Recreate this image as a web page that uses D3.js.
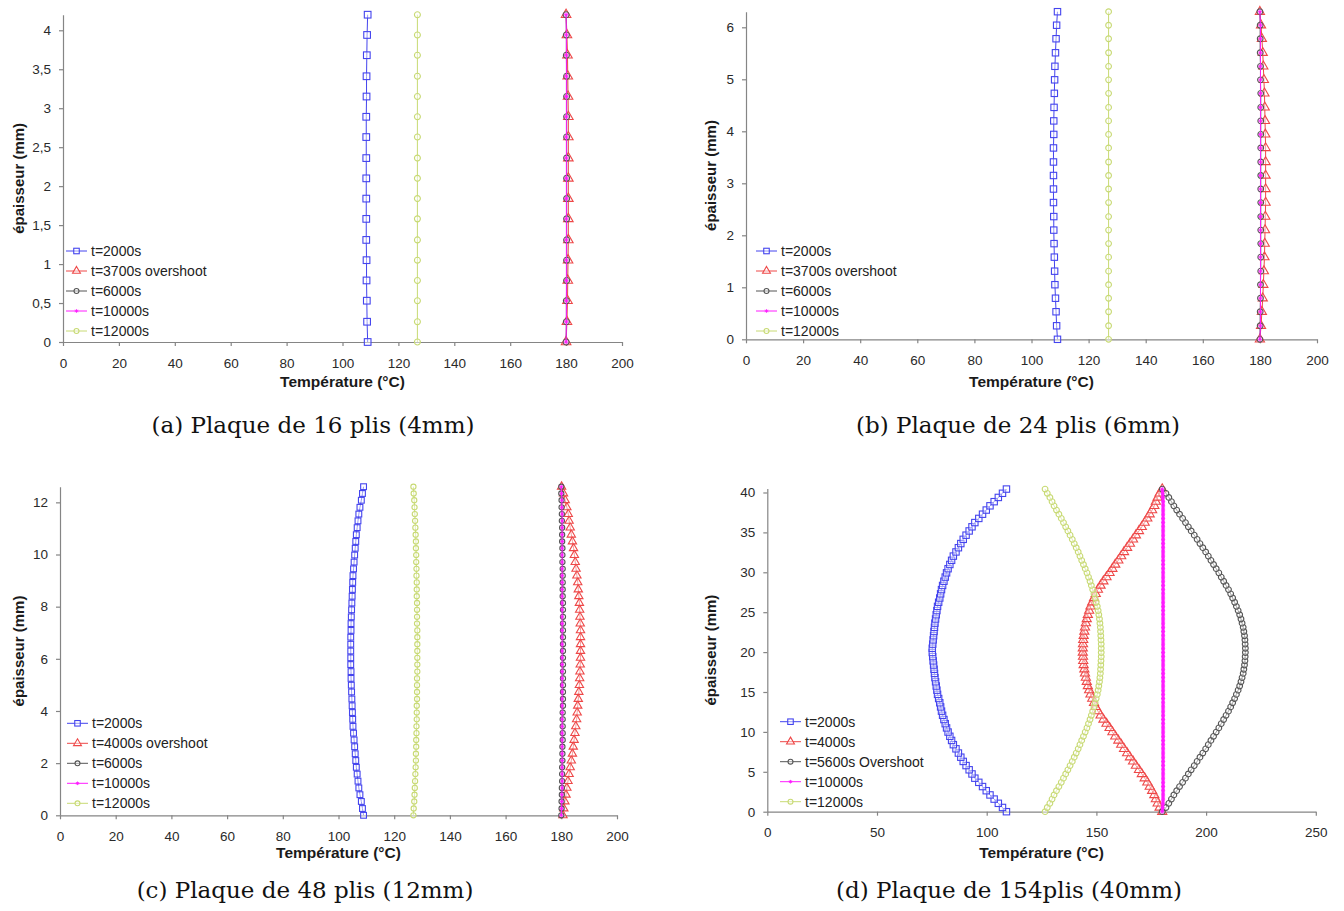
<!DOCTYPE html>
<html><head><meta charset="utf-8">
<script src="https://cdn.jsdelivr.net/npm/d3@7"></script>
<style>body{margin:0;background:#fff;} svg{display:block;}</style>
</head><body>
<svg id="c" width="1344" height="911"></svg>
<script>
// ---------- DATA ----------
// (a) 16 plis
const thickA = [0,0.26,0.53,0.79,1.05,1.31,1.58,1.84,2.1,2.36,2.63,2.89,3.15,3.41,3.68,3.94,4.2];
const blueA  = [109.0,108.8,108.7,108.6,108.6,108.5,108.5,108.5,108.5,108.5,108.5,108.5,108.6,108.6,108.7,108.8,109.0];
const redA   = [180.0,180.3,180.5,180.6,180.7,180.8,180.8,180.8,180.8,180.8,180.8,180.8,180.7,180.6,180.5,180.3,180.0];
const blackA = [180.0,180.1,180.1,180.2,180.2,180.2,180.2,180.2,180.2,180.2,180.2,180.2,180.2,180.2,180.1,180.1,180.0];
const magA   = [180.0,180.1,180.1,180.1,180.1,180.1,180.1,180.1,180.1,180.1,180.1,180.1,180.1,180.1,180.1,180.1,180.0];
const greenA = [126.8,126.8,126.8,126.8,126.8,126.8,126.8,126.8,126.8,126.8,126.8,126.8,126.8,126.8,126.8,126.8,126.8];
const legendA = ["t=2000s","t=3700s overshoot","t=6000s","t=10000s","t=12000s"];
const yTicksA = [0,0.5,1,1.5,2,2.5,3,3.5,4];
const xTicksA = [0,20,40,60,80,100,120,140,160,180,200];
const captionA = "(a) Plaque de 16 plis (4mm)";

// (b) 24 plis
const thickB = [0,0.26,0.53,0.79,1.05,1.31,1.58,1.84,2.1,2.36,2.63,2.89,3.15,3.41,3.68,3.94,4.2,4.46,4.73,4.99,5.25,5.51,5.78,6.04,6.3];
const blueB  = [109.1,108.8,108.6,108.4,108.2,108.1,108.0,107.9,107.8,107.8,107.7,107.7,107.7,107.7,107.7,107.8,107.8,107.9,108.0,108.1,108.2,108.4,108.6,108.8,109.1];
const redB   = [180.0,180.4,180.7,181.0,181.2,181.4,181.6,181.7,181.8,181.9,182.0,182.0,182.0,182.0,182.0,181.9,181.8,181.7,181.6,181.4,181.2,181.0,180.7,180.4,180.0];
const blackB = [180.0,180.1,180.1,180.2,180.2,180.3,180.3,180.3,180.3,180.3,180.3,180.3,180.3,180.3,180.3,180.3,180.3,180.3,180.3,180.2,180.2,180.1,180.1,180.1,180.0];
const magB   = [180.0,180.2,180.2,180.2,180.2,180.2,180.2,180.2,180.2,180.2,180.2,180.2,180.2,180.2,180.2,180.2,180.2,180.2,180.2,180.2,180.2,180.2,180.2,180.2,180.0];
const greenB = [127.0,127.0,127.0,127.0,127.0,127.0,127.0,127.0,127.0,127.0,127.0,127.0,127.0,127.0,127.0,127.0,127.0,127.0,127.0,127.0,127.0,127.0,127.0,127.0,127.0];
const legendB = ["t=2000s","t=3700s overshoot","t=6000s","t=10000s","t=12000s"];
const yTicksB = [0,1,2,3,4,5,6];
const xTicksB = [0,20,40,60,80,100,120,140,160,180,200];
const captionB = "(b) Plaque de 24 plis (6mm)";

// (c) 48 plis
const thickC = [0,0.26,0.53,0.79,1.05,1.31,1.58,1.84,2.1,2.36,2.63,2.89,3.15,3.41,3.68,3.94,4.2,4.46,4.73,4.99,5.25,5.51,5.78,6.04,6.3,
  6.56,6.83,7.09,7.35,7.61,7.88,8.14,8.4,8.66,8.93,9.19,9.45,9.71,9.98,10.24,10.5,10.76,11.03,11.29,11.55,11.81,12.08,12.34,12.6];
const blueC  = [109.0,108.6,108.2,107.7,107.3,107.0,106.7,106.4,106.2,106.0,105.8,105.6,105.4,105.2,105.1,105.0,104.9,104.8,104.7,104.6,104.5,104.5,104.4,104.4,104.4,
  104.4,104.4,104.5,104.5,104.6,104.7,104.8,104.9,105.0,105.1,105.2,105.4,105.6,105.8,106.0,106.2,106.4,106.7,107.0,107.3,107.7,108.2,108.6,109.0];
const redC   = [180.6,180.9,181.3,181.7,182.0,182.4,182.8,183.2,183.6,184.0,184.3,184.6,184.9,185.2,185.5,185.7,185.9,186.1,186.3,186.5,186.6,186.7,186.8,186.9,186.9,
  186.9,186.9,186.9,186.8,186.7,186.6,186.5,186.3,186.1,185.9,185.6,185.3,185.0,184.7,184.4,184.0,183.6,183.2,182.8,182.5,182.0,181.4,180.8,180.1];
const blackC = [180.0,180.1,180.1,180.2,180.2,180.3,180.3,180.3,180.4,180.4,180.4,180.5,180.5,180.5,180.5,180.5,180.6,180.6,180.6,180.6,180.6,180.6,180.6,180.6,180.6,
  180.6,180.6,180.6,180.6,180.6,180.6,180.6,180.5,180.5,180.5,180.5,180.5,180.4,180.4,180.4,180.3,180.3,180.3,180.2,180.2,180.1,180.1,180.0,180.0];
const magC   = [180.0,180.1,180.2,180.2,180.3,180.3,180.3,180.3,180.3,180.3,180.3,180.3,180.3,180.3,180.3,180.3,180.3,180.3,180.3,180.3,180.3,180.3,180.3,180.3,180.3,
  180.3,180.3,180.3,180.3,180.3,180.3,180.3,180.3,180.3,180.3,180.3,180.3,180.3,180.3,180.3,180.3,180.3,180.3,180.3,180.3,180.2,180.2,180.1,180.0];
const greenC = [126.9,127.0,127.2,127.3,127.4,127.5,127.6,127.7,127.8,127.8,127.9,127.9,128.0,128.0,128.1,128.1,128.1,128.2,128.2,128.2,128.2,128.3,128.3,128.3,128.3,
  128.3,128.3,128.3,128.2,128.2,128.2,128.2,128.1,128.1,128.1,128.0,128.0,127.9,127.9,127.8,127.8,127.7,127.6,127.5,127.4,127.3,127.2,127.0,126.9];
const legendC = ["t=2000s","t=4000s overshoot","t=6000s","t=10000s","t=12000s"];
const yTicksC = [0,2,4,6,8,10,12];
const xTicksC = [0,20,40,60,80,100,120,140,160,180,200];
const captionC = "(c) Plaque de 48 plis (12mm)";

// (d) 154 plis
const thickD = [0,0.53,1.05,1.58,2.1,2.63,3.15,3.68,4.2,4.73,5.25,5.78,6.3,6.83,7.35,7.88,8.4,8.93,9.45,9.98,10.5,11.03,11.55,12.08,12.6,13.13,13.65,14.18,14.7,15.23,15.75,16.28,16.8,17.33,17.85,18.38,18.9,19.43,19.95,
  20.48,21.0,21.53,22.05,22.58,23.1,23.63,24.15,24.68,25.2,25.73,26.25,26.78,27.3,27.83,28.35,28.88,29.4,29.93,30.45,30.98,31.5,32.03,32.55,33.08,33.6,34.13,34.65,35.18,35.7,36.23,36.75,37.28,37.8,38.33,38.85,39.38,39.9,40.43];
const blueD  = [109.0,107.2,105.3,103.4,101.5,99.8,98.1,96.4,94.6,93.3,92.0,90.6,89.3,88.2,87.1,86.0,84.8,84.0,83.2,82.4,81.7,81.1,80.5,79.9,79.4,79.0,78.6,78.1,77.6,77.3,77.0,76.7,76.4,76.2,76.0,75.8,75.6,75.4,75.2,
  75.2,75.4,75.6,75.8,76.0,76.2,76.4,76.7,77.0,77.3,77.6,78.1,78.6,79.0,79.4,79.9,80.5,81.1,81.7,82.4,83.2,84.0,84.8,86.0,87.1,88.2,89.3,90.6,92.0,93.3,94.6,96.4,98.1,99.8,101.5,103.4,105.3,107.2,109.0];
const redD   = [180.0,178.8,177.9,177.1,176.4,175.4,174.3,173.2,172.0,170.7,169.4,168.0,166.7,165.3,164.0,162.6,161.3,160.0,158.6,157.3,156.0,154.6,153.2,151.9,150.7,149.7,148.9,148.1,147.3,146.7,146.1,145.6,145.2,144.8,144.5,144.2,144.0,143.9,143.8,
  143.8,143.9,144.0,144.2,144.5,144.8,145.2,145.6,146.1,146.7,147.3,148.1,148.9,149.7,150.7,151.9,153.2,154.6,156.0,157.3,158.6,160.0,161.3,162.6,164.0,165.3,166.7,168.0,169.4,170.7,172.0,173.2,174.3,175.4,176.4,177.1,177.9,178.8,180.0];
const blackD = [180.0,181.7,183.0,184.2,185.3,186.6,187.9,189.3,190.6,191.9,193.2,194.6,195.9,197.2,198.5,199.8,201.0,202.2,203.4,204.6,205.8,206.9,208.0,209.1,210.2,211.2,212.1,213.0,213.8,214.6,215.3,215.9,216.4,216.9,217.2,217.5,217.7,217.8,217.9,
  217.9,217.8,217.7,217.5,217.2,216.9,216.4,215.9,215.3,214.6,213.8,213.0,212.1,211.2,210.2,209.1,208.0,206.9,205.8,204.6,203.4,202.2,201.0,199.8,198.5,197.2,195.9,194.6,193.2,191.9,190.6,189.3,187.9,186.6,185.3,184.2,183.0,181.7,180.0];
const magD   = [180.0,180.2,180.3,180.4,180.4,180.4,180.4,180.4,180.4,180.4,180.4,180.4,180.4,180.4,180.4,180.4,180.4,180.4,180.4,180.4,180.4,180.4,180.4,180.4,180.4,180.4,180.4,180.4,180.4,180.4,180.4,180.4,180.4,180.4,180.4,180.4,180.4,180.4,180.4,
  180.4,180.4,180.4,180.4,180.4,180.4,180.4,180.4,180.4,180.4,180.4,180.4,180.4,180.4,180.4,180.4,180.4,180.4,180.4,180.4,180.4,180.4,180.4,180.4,180.4,180.4,180.4,180.4,180.4,180.4,180.4,180.4,180.4,180.4,180.4,180.4,180.3,180.2,180.0];
const greenD = [126.6,127.6,128.8,129.8,130.7,131.8,132.9,134.0,135.0,136.0,137.0,138.0,139.0,139.9,140.8,141.7,142.5,143.3,144.1,144.9,145.7,146.4,147.1,147.7,148.3,148.9,149.4,149.9,150.4,150.8,151.1,151.4,151.6,151.8,151.9,152.0,152.1,152.2,152.2,
  152.2,152.2,152.1,152.0,151.9,151.8,151.6,151.4,151.1,150.8,150.4,149.9,149.4,148.9,148.3,147.7,147.1,146.4,145.7,144.9,144.1,143.3,142.5,141.7,140.8,139.9,139.0,138.0,137.0,136.0,135.0,134.0,132.9,131.8,130.7,129.8,128.8,127.6,126.6];
const legendD = ["t=2000s","t=4000s","t=5600s Overshoot","t=10000s","t=12000s"];
const yTicksD = [0,5,10,15,20,25,30,35,40];
const xTicksD = [0,50,100,150,200,250];
const captionD = "(d) Plaque de 154plis (40mm)";

const xTitle = "Température (°C)";
const yTitle = "épaisseur (mm)";

// ---------- STYLE ----------
const seriesStyle = [
  {color:"#4444ee", marker:"square"},
  {color:"#ee4848", marker:"triangle"},
  {color:"#555555", marker:"circle"},
  {color:"#ff1cff", marker:"star"},
  {color:"#c8da74", marker:"circle"}
];

const panels = [
  {thick:thickA, series:[blueA,redA,blackA,magA,greenA], legend:legendA, yTicks:yTicksA, xTicks:xTicksA, caption:captionA,
   xDom:[0,200], xR:[63,622], yDom:[0,4.2], yR:[342,14.7], ylx:18, xly:387, lx:66, ly:251, cap:[313,433], ms:1.15, magW:1},
  {thick:thickB, series:[blueB,redB,blackB,magB,greenB], legend:legendB, yTicks:yTicksB, xTicks:xTicksB, caption:captionB,
   xDom:[0,200], xR:[746,1317], yDom:[0,6.3], yR:[339.3,11.7], ylx:710, xly:387, lx:756, ly:251, cap:[1018,433], ms:1.1, magW:1},
  {thick:thickC, series:[blueC,redC,blackC,magC,greenC], legend:legendC, yTicks:yTicksC, xTicks:xTicksC, caption:captionC,
   xDom:[0,200], xR:[60,617], yDom:[0,12.6], yR:[815.3,486.7], ylx:18, xly:858, lx:67, ly:723.3, cap:[305,898], ms:1.0, magW:1},
  {thick:thickD, series:[blueD,redD,blackD,magD,greenD], legend:legendD, yTicks:yTicksD, xTicks:xTicksD, caption:captionD,
   xDom:[0,250], xR:[767.3,1315.8], yDom:[0,40.5], yR:[811.7,488.5], ylx:710, xly:858, lx:780, ly:721.7, cap:[1009,898], ms:1.1, magW:3}
];

const svg = d3.select("#c");
const fmt = v => String(v).replace(".", ",");

function marker(g, type, color, s) {
  if (type === "square") {
    const a = 2.9*s;
    g.append("rect").attr("x",-a).attr("y",-a).attr("width",2*a).attr("height",2*a)
      .attr("fill","#fff").attr("fill-opacity",0.45).attr("stroke",color).attr("stroke-width",1.1);
  } else if (type === "triangle") {
    g.append("path").attr("d", d3.symbol(d3.symbolTriangle, 30*s*s)())
      .attr("fill","#fff").attr("fill-opacity",0.45).attr("stroke",color).attr("stroke-width",1.1);
  } else if (type === "circle") {
    g.append("circle").attr("r",2.6*s)
      .attr("fill","#fff").attr("fill-opacity",0.45).attr("stroke",color).attr("stroke-width",1.1);
  } else if (type === "star") {
    const r = 1.9*s, q = r*0.7;
    g.append("path").attr("d",`M${-r},0L${r},0M0,${-r}L0,${r}M${-q},${-q}L${q},${q}M${-q},${q}L${q},${-q}`)
      .attr("stroke",color).attr("stroke-width",0.9).attr("fill","none");
  }
}

panels.forEach(p => {
  const x = d3.scaleLinear().domain(p.xDom).range(p.xR);
  const y = d3.scaleLinear().domain(p.yDom).range(p.yR);
  const g = svg.append("g");

  // axes
  const ax = g.append("g").attr("transform",`translate(0,${y(0)})`)
    .call(d3.axisBottom(x).tickValues(p.xTicks).tickSize(4).tickSizeOuter(0).tickPadding(12).tickFormat(fmt));
  const ay = g.append("g").attr("transform",`translate(${x(0)},0)`)
    .call(d3.axisLeft(y).tickValues(p.yTicks).tickSize(4).tickSizeOuter(0).tickPadding(8).tickFormat(fmt));
  [ax, ay].forEach(a => {
    a.select(".domain").attr("stroke","#858585").attr("stroke-width",1.2);
    a.selectAll(".tick line").attr("stroke","#858585").attr("stroke-width",1.2);
    a.selectAll(".tick text").attr("fill","#2a2a2a").style("font-family","'Liberation Sans', Arial, sans-serif").style("font-size","13.5px");
  });

  // titles
  g.append("text").attr("x", (p.xR[0]+p.xR[1])/2).attr("y", p.xly)
    .attr("text-anchor","middle").attr("fill","#1a1a1a")
    .style("font-family","'Liberation Sans', Arial, sans-serif").style("font-size","15.5px").style("font-weight","bold")
    .text(xTitle);
  g.append("text").attr("transform",`translate(${p.ylx},${(p.yR[0]+p.yR[1])/2}) rotate(-90)`)
    .attr("text-anchor","middle").attr("dominant-baseline","central").attr("fill","#1a1a1a")
    .style("font-family","'Liberation Sans', Arial, sans-serif").style("font-size","15px").style("font-weight","bold")
    .text(yTitle);

  // series
  const line = d3.line().x(d => x(d[0])).y(d => y(d[1]));
  p.series.forEach((vals, si) => {
    const st = seriesStyle[si];
    const pts = p.thick.map((t, i) => [vals[i], t]);
    const sg = g.append("g");
    sg.append("path").datum(pts).attr("d", line).attr("fill","none")
      .attr("stroke", st.color).attr("stroke-width", si === 3 ? p.magW : 1);
    pts.forEach(d => {
      const mg = sg.append("g").attr("transform",`translate(${x(d[0])},${y(d[1])})`);
      marker(mg, st.marker, st.color, p.ms);
    });
  });

  // legend
  p.legend.forEach((lab, i) => {
    const st = seriesStyle[i];
    const yy = p.ly + i*20;
    const lg = g.append("g");
    lg.append("line").attr("x1",p.lx).attr("x2",p.lx+21).attr("y1",yy).attr("y2",yy)
      .attr("stroke",st.color).attr("stroke-width",1);
    const mg = lg.append("g").attr("transform",`translate(${p.lx+10.5},${yy})`);
    marker(mg, st.marker, st.color, 0.95);
    lg.append("text").attr("x",p.lx+25).attr("y",yy).attr("dominant-baseline","central")
      .attr("fill","#222").style("font-family","'Liberation Sans', Arial, sans-serif").style("font-size","14px")
      .text(lab);
  });

  // caption
  svg.append("text").attr("x",p.cap[0]).attr("y",p.cap[1]).attr("text-anchor","middle")
    .attr("fill","#111").style("font-family","'DejaVu Serif', serif").style("font-size","23px")
    .text(p.caption);
});
</script>
</body></html>
